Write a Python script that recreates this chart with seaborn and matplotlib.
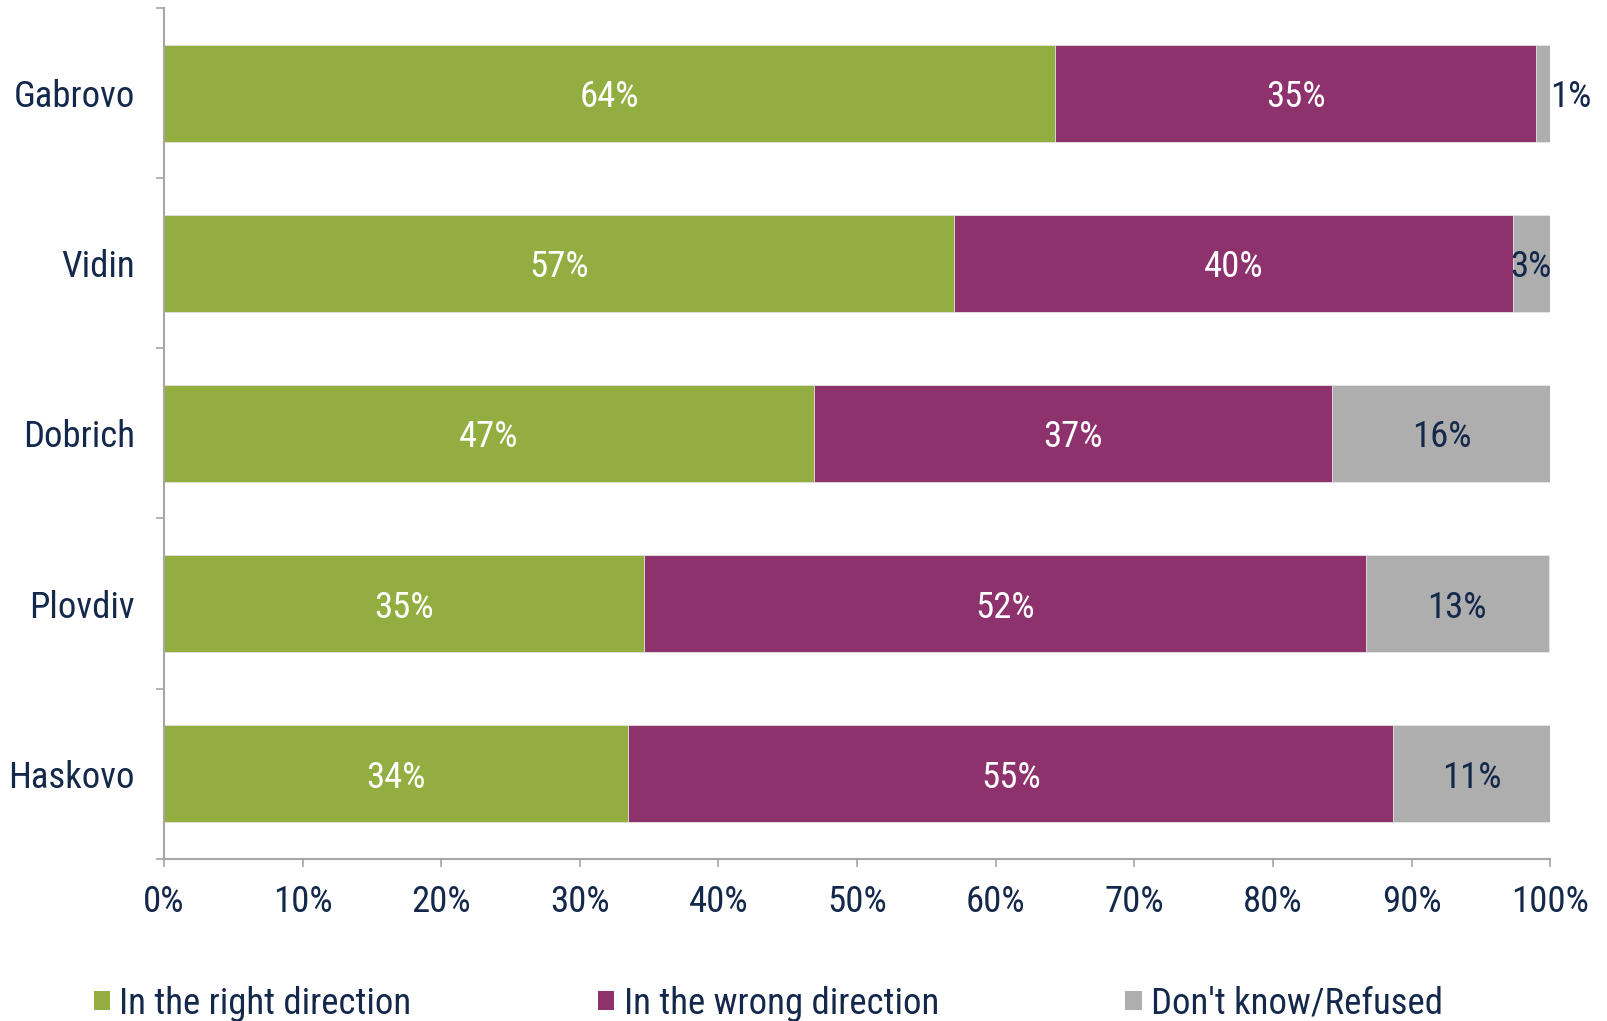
import matplotlib
matplotlib.use("Agg")
import matplotlib.pyplot as plt
from matplotlib import font_manager
from matplotlib.patches import Patch
import seaborn as sns
import pandas as pd
import numpy as np

# ---- data ----
cities = ["Gabrovo", "Vidin", "Dobrich", "Plovdiv", "Haskovo"]
right_dir = [64.3, 57.0, 46.9, 34.6, 33.5]
wrong_dir = [34.7, 40.3, 37.4, 52.1, 55.2]
dont_know = [1.0, 2.7, 15.8, 13.2, 11.3]
right_lbl = ["64%", "57%", "47%", "35%", "34%"]
wrong_lbl = ["35%", "40%", "37%", "52%", "55%"]
dk_lbl = ["1%", "3%", "16%", "13%", "11%"]
series_names = ["In the right direction", "In the wrong direction", "Don't know/Refused"]
x_ticks = [0, 10, 20, 30, 40, 50, 60, 70, 80, 90, 100]
x_tick_labels = ["0%", "10%", "20%", "30%", "40%", "50%", "60%", "70%", "80%", "90%", "100%"]

GREEN = "#92AD40"
PURPLE = "#8E326E"
GRAY = "#AEAEAF"
NAVY = "#13284A"
SPINE = "#A6A6A6"

sns.set_theme(style="white")
fam = "DejaVu Sans"
for cand in ["Roboto Condensed", "Liberation Sans Narrow", "Open Sans Condensed", "Liberation Sans"]:
    try:
        font_manager.findfont(cand, fallback_to_default=False)
        fam = cand
        break
    except Exception:
        continue
plt.rcParams["font.family"] = [fam, "DejaVu Sans"]

df = pd.DataFrame({"city": cities, "right": right_dir, "wrong": wrong_dir, "dk": dont_know})
df["c1"] = df["right"]
df["c2"] = df["right"] + df["wrong"]
df["c3"] = df["c2"] + df["dk"]

fig = plt.figure(figsize=(16.08, 10.21), dpi=100)
ax = fig.add_axes([0.102, 0.159, 0.862, 0.833])

bw = 0.57
sns.barplot(data=df, y="city", x="c3", order=cities, color=GRAY, width=bw, orient="h",
            ax=ax, saturation=1, edgecolor="#E6E6E6", linewidth=0.6)
sns.barplot(data=df, y="city", x="c2", order=cities, color=PURPLE, width=bw, orient="h",
            ax=ax, saturation=1, edgecolor="#E6E6E6", linewidth=0.6)
sns.barplot(data=df, y="city", x="c1", order=cities, color=GREEN, width=bw, orient="h",
            ax=ax, saturation=1, edgecolor="#E6E6E6", linewidth=0.6)

fs = 26.5
for i in range(len(cities)):
    ax.text(df["c1"][i] / 2, i, right_lbl[i], ha="center", va="center_baseline", color="white", fontsize=fs)
    ax.text((df["c1"][i] + df["c2"][i]) / 2, i, wrong_lbl[i], ha="center", va="center_baseline", color="white", fontsize=fs)
    if dont_know[i] < 2:
        ax.text(df["c3"][i], i, dk_lbl[i], ha="left", va="center_baseline", color=NAVY, fontsize=fs)
    else:
        ax.text((df["c2"][i] + df["c3"][i]) / 2, i, dk_lbl[i], ha="center", va="center_baseline", color=NAVY, fontsize=fs)

ax.set_xlim(0, 100)
ax.set_ylim(len(cities) - 0.5, -0.5)
ax.set_xticks(x_ticks)
ax.set_xticklabels(x_tick_labels, fontsize=fs, color=NAVY)
ax.set_yticks(range(len(cities)))
ax.set_yticklabels(cities, fontsize=fs, color=NAVY)
ax.set_yticks(np.arange(-0.5, len(cities), 1.0), minor=True)
ax.tick_params(axis="y", which="major", length=0, pad=21)
ax.tick_params(axis="y", which="minor", length=6, width=1.2, color=SPINE, direction="out", left=True)
ax.tick_params(axis="x", which="major", length=6, width=1.2, color=SPINE, direction="out", bottom=True, pad=12)
ax.set_xlabel("")
ax.set_ylabel("")
for s in ["top", "right"]:
    ax.spines[s].set_visible(False)
for s in ["left", "bottom"]:
    ax.spines[s].set_color(SPINE)
    ax.spines[s].set_linewidth(1.5)
ax.grid(False)

handles = [Patch(facecolor=c, edgecolor="none") for c in [GREEN, PURPLE, GRAY]]
fig.legend(handles, series_names, loc="center left", bbox_to_anchor=(0.049, 0.017), ncol=3,
           frameon=False, fontsize=fs, labelcolor=NAVY, handlelength=0.45, handleheight=0.45,
           handletextpad=0.25, columnspacing=5.06, borderaxespad=0)

fig.savefig("out.png", dpi=100)
